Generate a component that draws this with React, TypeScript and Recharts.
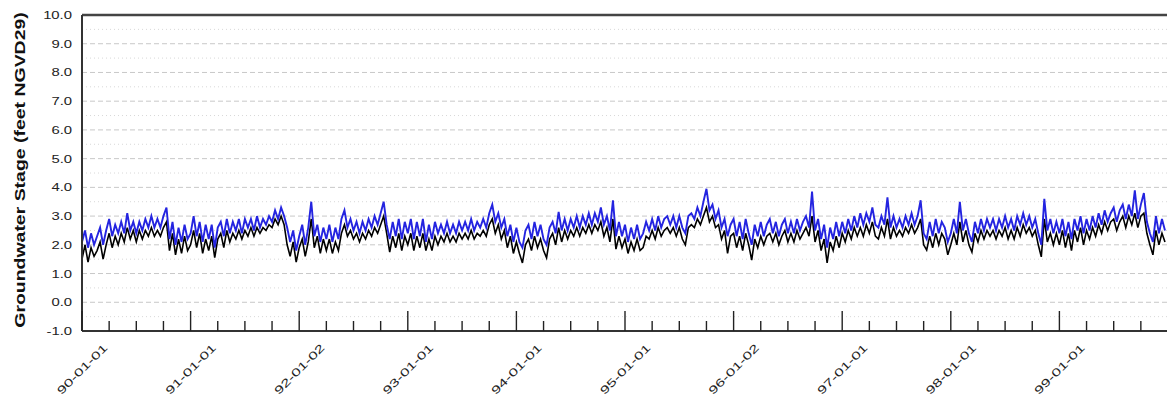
import React from 'react';
import { LineChart, Line, XAxis, YAxis, ReferenceLine } from 'recharts';

// Sampling: 36 readings per year (about every 10 days), Jan 1990 – Dec 1999
const START_YEAR = 1990;
const PER_YEAR = 36;

const YEAR_LABELS = ['90-01-01', '91-01-01', '92-01-02', '93-01-01', '94-01-01', '95-01-01', '96-01-02', '97-01-01', '98-01-01', '99-01-01'];
const Y_TICKS = [-1, 0, 1, 2, 3, 4, 5, 6, 7, 8, 9, 10];
const GRID_MAJOR = [0, 1, 2, 3, 4, 5, 6, 7, 8, 9];
const GRID_MINOR = [-0.5, 0.5, 1.5, 2.5, 3.5, 4.5, 5.5, 6.5, 7.5, 8.5, 9.5];

// Blue series (upper trace), feet NGVD29
const BLUE = [
  // 1990
  2.1, 2.5, 1.9, 2.4, 2.0, 2.3, 2.6, 2.0, 2.5, 2.9, 2.3, 2.7, 2.4, 2.8, 2.4, 3.1, 2.5, 2.8, 2.4, 2.8, 2.5, 2.9, 2.6, 3.0, 2.6, 2.9, 2.6, 3.0, 3.3, 2.2, 2.8, 2.0, 2.6, 2.1, 2.7, 2.2,
  // 1991
  2.4, 3.0, 2.3, 2.8, 2.1, 2.7, 2.2, 2.7, 1.9, 2.6, 2.8, 2.3, 2.9, 2.4, 2.8, 2.5, 2.9, 2.4, 2.9, 2.6, 2.9, 2.5, 3.0, 2.6, 2.9, 2.7, 3.0, 2.8, 3.2, 2.9, 3.3, 3.0, 2.6, 2.1, 2.5, 1.8,
  // 1992
  2.3, 2.7, 2.0, 2.6, 3.5, 2.3, 2.7, 2.1, 2.6, 2.2, 2.7, 2.1, 2.6, 2.2, 2.9, 3.2, 2.6, 2.9, 2.5, 2.8, 2.4, 2.8, 2.5, 2.9, 2.6, 3.0, 2.7, 3.1, 3.5, 2.7, 2.2, 2.8, 2.3, 2.9, 2.2, 2.8,
  // 1993
  2.4, 2.9, 2.2, 2.8, 2.3, 2.9, 2.1, 2.7, 2.2, 2.8, 2.4, 2.7, 2.4, 2.8, 2.4, 2.7, 2.4, 2.8, 2.5, 2.8, 2.5, 2.9, 2.5, 2.8, 2.6, 2.9, 2.6, 3.1, 3.4, 2.8, 3.1, 2.6, 2.9, 2.3, 2.7, 2.1,
  // 1994
  2.6, 2.1, 1.9, 2.5, 2.7, 2.2, 2.8, 2.3, 2.7, 2.2, 2.0, 2.6, 2.8, 2.4, 3.15, 2.5, 2.9, 2.5, 2.9, 2.6, 3.0, 2.6, 3.0, 2.7, 3.1, 2.7, 3.1, 2.8, 3.3, 2.7, 3.0, 2.5, 3.55, 2.3, 2.8, 2.3,
  // 1995
  2.7, 2.1, 2.6, 2.2, 2.7, 2.2, 2.4, 2.8, 2.5, 2.9, 2.5, 3.0, 2.6, 2.9, 3.0, 2.7, 3.0, 2.6, 3.0, 2.6, 2.4, 3.0, 3.1, 2.9, 3.3, 3.0, 3.5, 3.95, 3.2, 3.4, 2.9, 3.2, 2.6, 2.9, 2.3, 2.7,
  // 1996
  2.9, 2.3, 2.8, 2.2, 2.9, 2.4, 2.0, 2.7, 2.3, 2.8, 2.3, 2.7, 2.9, 2.4, 2.8, 2.3, 2.7, 2.9, 2.4, 2.8, 2.4, 2.9, 2.5, 2.8, 3.0, 2.6, 3.85, 2.5, 2.9, 2.2, 2.7, 1.9, 2.6, 2.2, 2.8, 2.3,
  // 1997
  2.8, 2.4, 2.9, 2.5, 3.0, 2.6, 3.1, 2.7, 3.1, 2.8, 3.3, 2.7, 2.6, 3.0, 2.7, 3.65, 2.6, 3.0, 2.6, 2.9, 2.6, 3.0, 2.7, 3.1, 2.7, 3.0, 3.55, 2.4, 2.2, 2.8, 2.3, 2.9, 2.4, 2.8, 2.6, 2.1,
  // 1998
  2.4, 2.9, 2.4, 3.5, 2.5, 2.9, 2.4, 2.1, 2.8, 2.4, 2.9, 2.5, 2.9, 2.6, 2.9, 2.5, 2.9, 2.6, 3.0, 2.6, 2.9, 2.5, 3.0, 2.7, 3.1, 2.7, 3.0, 2.6, 2.9, 2.4, 2.0, 3.6, 2.5, 2.9, 2.4, 2.8,
  // 1999
  2.4, 2.9, 2.3, 2.8, 2.2, 2.9, 2.5, 3.0, 2.4, 2.9, 2.5, 3.0, 2.6, 3.1, 2.7, 3.2, 2.8, 3.1, 3.3, 2.8, 3.2, 3.4, 2.9, 3.4, 3.0, 3.9, 2.9, 3.4, 3.8, 2.8, 2.4, 2.1, 3.0, 2.4, 2.9, 2.5,
];

// Black series (lower trace), feet NGVD29
const BLACK = [
  // 1990
  1.5, 2.0, 1.4, 1.9, 1.6, 1.8, 2.1, 1.5, 2.0, 2.4, 1.9, 2.3, 2.0, 2.4, 2.1, 2.6, 2.2, 2.5, 2.1, 2.5, 2.2, 2.5, 2.3, 2.6, 2.3, 2.5, 2.3, 2.6, 2.8, 1.8, 2.4, 1.65, 2.2, 1.7, 2.3, 1.8,
  // 1991
  2.0, 2.5, 1.9, 2.4, 1.7, 2.2, 1.8, 2.3, 1.55, 2.2, 2.4, 1.9, 2.5, 2.1, 2.4, 2.2, 2.5, 2.2, 2.5, 2.3, 2.6, 2.3, 2.6, 2.4, 2.6, 2.5, 2.7, 2.6, 2.9, 2.7, 3.0, 2.7, 2.0, 1.6, 2.1, 1.4,
  // 1992
  1.9, 2.2, 1.6, 2.1, 2.9, 1.9, 2.3, 1.7, 2.2, 1.8, 2.2, 1.7, 2.1, 1.8, 2.4, 2.7, 2.3, 2.5, 2.2, 2.4, 2.1, 2.4, 2.2, 2.5, 2.3, 2.6, 2.4, 2.7, 3.0, 2.4, 1.75, 2.3, 1.9, 2.4, 1.8, 2.3,
  // 1993
  2.0, 2.4, 1.8, 2.3, 1.9, 2.4, 1.8, 2.2, 1.8, 2.3, 2.0, 2.3, 2.1, 2.4, 2.1, 2.3, 2.1, 2.4, 2.2, 2.4, 2.2, 2.5, 2.2, 2.4, 2.3, 2.5, 2.3, 2.7, 2.9, 2.4, 2.7, 2.2, 2.5, 1.9, 2.3, 1.7,
  // 1994
  2.1, 1.7, 1.37, 2.0, 2.2, 1.8, 2.3, 1.9, 2.2, 1.8, 1.55, 2.2, 2.4, 2.0, 2.6, 2.1, 2.5, 2.2, 2.5, 2.3, 2.6, 2.3, 2.6, 2.4, 2.7, 2.4, 2.7, 2.5, 2.8, 2.3, 2.6, 2.1, 2.9, 1.85, 2.3, 1.9,
  // 1995
  2.2, 1.7, 2.1, 1.8, 2.2, 1.8, 1.9, 2.3, 2.2, 2.5, 2.2, 2.6, 2.3, 2.5, 2.6, 2.4, 2.6, 2.3, 2.6, 2.2, 2.0, 2.6, 2.7, 2.6, 2.9, 2.7, 3.0, 3.3, 2.8, 3.0, 2.6, 2.7, 2.2, 2.5, 1.7, 2.3,
  // 1996
  2.4, 1.9, 2.3, 1.8, 2.4, 2.0, 1.47, 2.2, 1.9, 2.3, 2.0, 2.3, 2.4, 2.1, 2.4, 2.0, 2.3, 2.5, 2.1, 2.4, 2.1, 2.5, 2.2, 2.4, 2.6, 2.3, 3.0, 2.1, 2.5, 1.8, 2.2, 1.37, 2.1, 1.8, 2.3, 1.9,
  // 1997
  2.4, 2.1, 2.5, 2.2, 2.6, 2.3, 2.6, 2.3, 2.7, 2.4, 2.8, 2.3, 2.2, 2.6, 2.3, 2.9, 2.2, 2.6, 2.3, 2.5, 2.3, 2.6, 2.4, 2.7, 2.4, 2.6, 2.9, 2.0, 1.82, 2.3, 1.9, 2.4, 2.0, 2.4, 2.2, 1.65,
  // 1998
  2.0, 2.4, 2.0, 2.8, 2.1, 2.5, 2.0, 1.75, 2.4, 2.1, 2.5, 2.2, 2.5, 2.3, 2.5, 2.2, 2.5, 2.3, 2.6, 2.2, 2.5, 2.2, 2.6, 2.3, 2.7, 2.4, 2.6, 2.3, 2.5, 2.0, 1.58, 2.9, 2.1, 2.4, 2.0, 2.4,
  // 1999
  2.0, 2.5, 1.9, 2.4, 1.8, 2.5, 2.1, 2.6, 2.0, 2.5, 2.2, 2.6, 2.3, 2.7, 2.4, 2.8, 2.5, 2.8, 2.9, 2.5, 2.8, 3.0, 2.6, 3.0, 2.7, 3.1, 2.6, 3.0, 3.1, 2.4, 2.0, 1.65, 2.5, 2.0, 2.4, 2.1,
];

const data = BLUE.map((b, i) => ({ t: START_YEAR + i / PER_YEAR, blue: b, black: BLACK[i] }));

const X_TICKS: number[] = [];
for (let y = 0; y < YEAR_LABELS.length; y++) {
  for (let q = 0; q < 4; q++) X_TICKS.push(START_YEAR + y + q / 4);
}

const FONT = '"Liberation Sans", Arial, Helvetica, sans-serif';

const XTick = (props: any) => {
  const { x, y, payload } = props;
  const v = payload.value as number;
  const major = Math.abs(v - Math.round(v)) < 1e-6;
  const label = major ? YEAR_LABELS[Math.round(v) - START_YEAR] : null;
  const cx = x;
  const cy = y + 38;
  return (
    <g>
      <line x1={x} x2={x} y1={y} y2={y - (major ? 20 : 10)} stroke="#222" strokeWidth={1.4} />
      {label && (
        <g transform={`translate(${cx},${cy}) rotate(-45) scale(1.5,1)`}>
          <text x={0} y={0} textAnchor="middle" dy="0.36em" fontSize={11} fontFamily={FONT} fill="#222">
            {label}
          </text>
        </g>
      )}
    </g>
  );
};

const YTick = (props: any) => {
  const { x, y, payload } = props;
  return (
    <g transform={`translate(${x - 10},${y}) scale(1.35,1)`}>
      <text x={0} y={0} textAnchor="end" dy="0.36em" fontSize={11} fontFamily={FONT} fill="#222">
        {(payload.value as number).toFixed(1)}
      </text>
    </g>
  );
};

const YLabel = () => (
  <g transform="translate(20,170) rotate(-90) scale(1.39,1)">
    <text x={0} y={0} textAnchor="middle" dy="0.36em" fontSize={14} fontWeight="bold" fontFamily={FONT} fill="#111">
      Groundwater Stage (feet NGVD29)
    </text>
  </g>
);

export default function App() {
  return (
    <div style={{ position: 'absolute', left: 0, top: 0, width: 1167, height: 405, overflow: 'hidden', background: '#fff' }}>
      <LineChart width={1172} height={405} data={data} margin={{ top: 15, right: 4, bottom: 0, left: 0 }}>
        {GRID_MINOR.map((v) => (
          <ReferenceLine key={'m' + v} y={v} stroke="#d8d8d8" strokeWidth={1} strokeDasharray="1 3" />
        ))}
        {GRID_MAJOR.map((v) => (
          <ReferenceLine key={'g' + v} y={v} stroke="#c8c8c8" strokeWidth={1} strokeDasharray="5 3" />
        ))}
        <ReferenceLine y={10} stroke="#444" strokeWidth={2.5} />
        <XAxis
          dataKey="t"
          type="number"
          domain={[1990, 2000]}
          ticks={X_TICKS}
          interval={0}
          height={74}
          tickSize={0}
          tickMargin={0}
          tickLine={false}
          axisLine={{ stroke: '#333', strokeWidth: 2 }}
          tick={<XTick />}
          allowDataOverflow
        />
        <YAxis
          type="number"
          domain={[-1, 10]}
          ticks={Y_TICKS}
          interval={0}
          width={82}
          tickSize={0}
          tickMargin={0}
          tickLine={false}
          axisLine={{ stroke: '#333', strokeWidth: 2 }}
          tick={<YTick />}
          label={{ content: () => <YLabel /> }}
          allowDataOverflow
        />
        <Line type="linear" dataKey="black" stroke="#000" strokeWidth={1.6} dot={false} isAnimationActive={false} />
        <Line type="linear" dataKey="blue" stroke="#2424e0" strokeWidth={1.9} dot={false} isAnimationActive={false} />
      </LineChart>
    </div>
  );
}
